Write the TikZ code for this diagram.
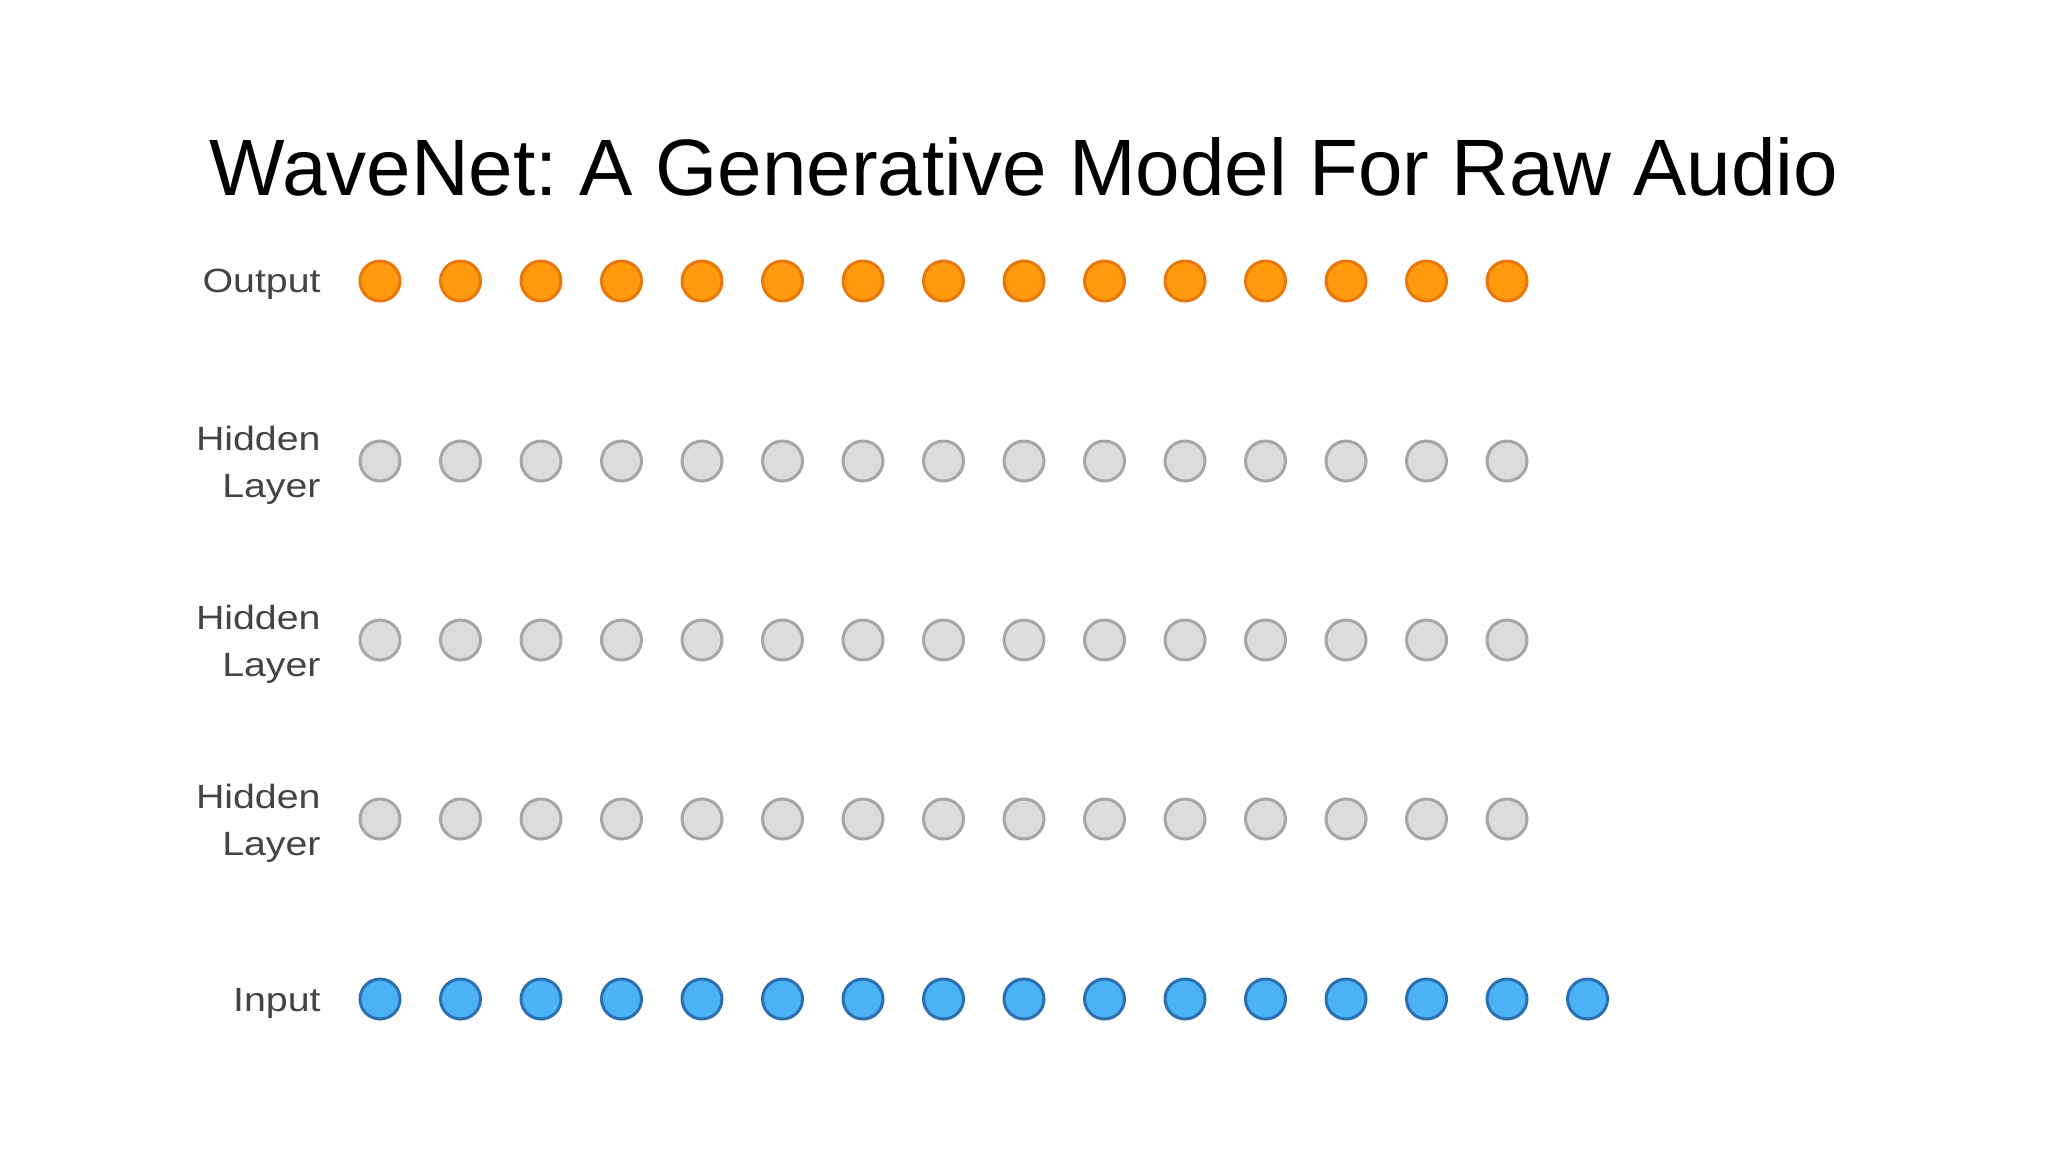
\documentclass[tikz,border=0pt]{standalone}
\usepackage{fontspec}
\setmainfont{Liberation Sans}
\newfontfamily\labfont[FakeStretch=1.17]{Liberation Sans}
\frenchspacing
\definecolor{outfill}{HTML}{FF9A0E}
\definecolor{outdraw}{HTML}{E8780C}
\definecolor{hidfill}{HTML}{DCDCDC}
\definecolor{hiddraw}{HTML}{A6A6A6}
\definecolor{infill}{HTML}{4CB2F6}
\definecolor{indraw}{HTML}{2C70B0}
\definecolor{labcol}{HTML}{444444}
\tikzset{
  unit/.style={circle,minimum size=20pt,inner sep=0pt,line width=1.5pt},
  outunit/.style={unit,fill=outfill,draw=outdraw},
  hidunit/.style={unit,fill=hidfill,draw=hiddraw},
  inunit/.style={unit,fill=infill,draw=indraw},
  layerlabel/.style={anchor=east,align=right,text=labcol,inner sep=0pt,
    font={\labfont\fontsize{16.8}{23.5}\selectfont}},
}
\begin{document}
\begin{tikzpicture}[x=0.5pt,y=-0.5pt]
\useasboundingbox[fill=white] (0,0) rectangle (2048,1152);
\node[font=\fontsize{40}{48}\selectfont] (title) at (1024,167) {WaveNet: A Generative Model For Raw Audio};
% output row
\foreach \i in {0,...,14} {
  \node[outunit] (o\i) at ({380+80.5*\i},281) {};
}
% hidden rows
\foreach \r/\yy in {1/461,2/640,3/819} {
  \foreach \i in {0,...,14} {
    \node[hidunit] (h\r-\i) at ({380+80.5*\i},\yy) {};
  }
}
% input row
\foreach \i in {0,...,15} {
  \node[inunit] (in\i) at ({380+80.5*\i},999) {};
}
\node[layerlabel] (lout) at (321,284) {Output};
\node[layerlabel] (lh1) at (321,465) {Hidden\\Layer};
\node[layerlabel] (lh2) at (321,644) {Hidden\\Layer};
\node[layerlabel] (lh3) at (321,823) {Hidden\\Layer};
\node[layerlabel] (lin) at (321,1003) {Input};
\end{tikzpicture}
\end{document}
